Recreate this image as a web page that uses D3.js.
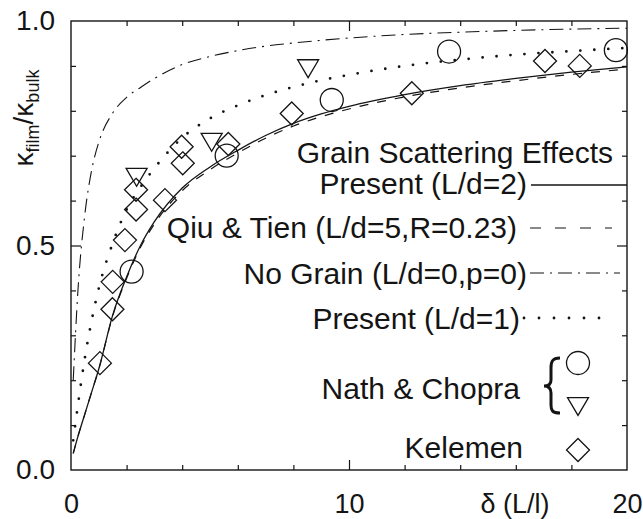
<!DOCTYPE html>
<html>
<head>
<meta charset="utf-8">
<script src="https://cdn.jsdelivr.net/npm/d3@7"></script>
<style>
  body { margin: 0; background: #fff; }
  text { font-family: "Liberation Sans", Arial, Helvetica, sans-serif; fill: #141414; }
</style>
</head>
<body>
<svg id="chart" width="643" height="519"></svg>
<script>
// δ = L/l sampling used for the model curves
const deltaGrid = [0.08, 0.25, 0.5, 0.75, 1, 1.5, 2, 2.5, 3, 4, 5, 6, 7, 8, 9, 10, 12, 14, 16, 18, 20];
// κ_film / κ_bulk for each model
const presentLd2 = [0.037, 0.075, 0.125, 0.175, 0.225, 0.345, 0.43, 0.5, 0.553, 0.628, 0.675, 0.712, 0.745, 0.772, 0.793, 0.81, 0.836, 0.856, 0.872, 0.886, 0.898];
const qiuTien    = [0.037, 0.075, 0.125, 0.175, 0.225, 0.343, 0.427, 0.496, 0.548, 0.622, 0.669, 0.706, 0.739, 0.766, 0.787, 0.804, 0.831, 0.851, 0.867, 0.881, 0.893];
const noGrain    = [0.2, 0.4, 0.57, 0.67, 0.73, 0.795, 0.83, 0.852, 0.872, 0.903, 0.921, 0.934, 0.944, 0.951, 0.957, 0.962, 0.97, 0.975, 0.979, 0.982, 0.984];
const presentLd1 = [0.066, 0.145, 0.25, 0.335, 0.405, 0.505, 0.58, 0.63, 0.672, 0.74, 0.783, 0.812, 0.835, 0.853, 0.868, 0.88, 0.9, 0.914, 0.925, 0.933, 0.94];

// Measurements
const nathCircleX   = [2.18, 5.6, 9.38, 13.6, 19.6];
const nathCircleY   = [0.442, 0.70, 0.824, 0.932, 0.935];
const nathTriangleX = [2.36, 5.06, 8.53];
const nathTriangleY = [0.653, 0.731, 0.895];
const kelemenX = [1.04, 1.49, 1.5, 1.94, 2.34, 2.34, 3.38, 3.98, 4.02, 5.66, 7.94, 12.26, 17.05, 18.3];
const kelemenY = [0.238, 0.358, 0.419, 0.512, 0.58, 0.624, 0.601, 0.72, 0.683, 0.726, 0.794, 0.839, 0.911, 0.9];

// Axis ticks
const xTickLabels = [0, 10, 20];
const yTickLabels = [0.0, 0.5, 1.0];

const svg = d3.select("#chart");
const pLeft = 71, pRight = 627, pTop = 21, pBottom = 470;
const x = d3.scaleLinear().domain([0, 20]).range([pLeft, pRight]);
const y = d3.scaleLinear().domain([0, 1]).range([pBottom, pTop]);
const ink = "#141414";

svg.append("defs").append("clipPath").attr("id", "plotClip")
  .append("rect").attr("x", pLeft).attr("y", pTop).attr("width", pRight - pLeft).attr("height", pBottom - pTop);

// Frame
svg.append("rect").attr("x", pLeft).attr("y", pTop).attr("width", pRight - pLeft).attr("height", pBottom - pTop)
  .attr("fill", "none").attr("stroke", ink).attr("stroke-width", 1.4);

// Inward ticks on all four sides
function ticks(axisGen, tr, values, size) {
  const g = svg.append("g").attr("transform", tr)
    .call(axisGen.tickValues(values).tickSizeInner(size).tickSizeOuter(0).tickFormat(""));
  g.select(".domain").remove();
  g.selectAll("line").attr("stroke", ink).attr("stroke-width", 1.2);
}
const xMinor = d3.range(2, 20, 2).filter(v => v !== 10);
const yMinor = d3.range(1, 10).map(v => v / 10).filter(v => v !== 0.5);
ticks(d3.axisBottom(x), `translate(0,${pBottom})`, xMinor, -5);
ticks(d3.axisBottom(x), `translate(0,${pBottom})`, [10], -10);
ticks(d3.axisTop(x), `translate(0,${pTop})`, xMinor, -5);
ticks(d3.axisTop(x), `translate(0,${pTop})`, [10], -10);
ticks(d3.axisLeft(y), `translate(${pLeft},0)`, yMinor, -5);
ticks(d3.axisLeft(y), `translate(${pLeft},0)`, [0.5], -10);
ticks(d3.axisRight(y), `translate(${pRight},0)`, yMinor, -5);
ticks(d3.axisRight(y), `translate(${pRight},0)`, [0.5], -10);

// Tick labels
const xLab = svg.append("g").attr("transform", `translate(0,${pBottom})`)
  .call(d3.axisBottom(x).tickValues(xTickLabels).tickSize(0).tickPadding(24).tickFormat(d3.format("d")));
xLab.select(".domain").remove();
xLab.selectAll("text").attr("font-size", 27).attr("font-family", null).attr("dy", "0.7em");

const yLab = svg.append("g").attr("transform", `translate(${pLeft},0)`)
  .call(d3.axisLeft(y).tickValues(yTickLabels).tickSize(0).tickPadding(16).tickFormat(d3.format(".1f")));
yLab.select(".domain").remove();
yLab.selectAll("text").attr("font-size", 28).attr("font-family", null);

// Axis titles
svg.append("text").attr("x", 515).attr("y", 513).attr("text-anchor", "middle")
  .attr("font-size", 27).text("δ (L/l)");

const yt = svg.append("text").attr("transform", "translate(33,118) rotate(-90)")
  .attr("text-anchor", "middle").attr("font-size", 28);
yt.append("tspan").text("κ");
yt.append("tspan").attr("font-size", 18).attr("dy", 6).text("film");
yt.append("tspan").attr("dy", -6).text("/κ");
yt.append("tspan").attr("font-size", 18).attr("dy", 6).text("bulk");

// Model curves
const plot = svg.append("g").attr("clip-path", "url(#plotClip)");
const line = d3.line().x(d => x(d[0])).y(d => y(d[1])).curve(d3.curveMonotoneX);
const pair = ys => deltaGrid.map((d, i) => [d, ys[i]]);

const styles = {
  solid:   { dash: null, width: 1.3 },
  dashed:  { dash: "9,9", width: 1.2 },
  dashdot: { dash: "14,6,2,6", width: 1.1 },
  dotted:  { dash: "0,14", width: 2.8, cap: "round" }
};
function drawPath(g, data, st) {
  g.append("path").attr("d", line(data)).attr("fill", "none").attr("stroke", ink)
    .attr("stroke-width", st.width).attr("stroke-dasharray", st.dash)
    .attr("stroke-linecap", st.cap || "butt");
}
drawPath(plot, pair(noGrain), styles.dashdot);
drawPath(plot, pair(presentLd1), styles.dotted);
drawPath(plot, pair(qiuTien), styles.dashed);
drawPath(plot, pair(presentLd2), styles.solid);

// Markers
const diamond = (cx, cy, r) => `M${cx},${cy - r}L${cx + r},${cy}L${cx},${cy + r}L${cx - r},${cy}Z`;
const triDown = (cx, cy, w) => `M${cx - w / 2},${cy - w * 0.4}L${cx + w / 2},${cy - w * 0.4}L${cx},${cy + w * 0.45}Z`;
const mk = svg.append("g").attr("fill", "none").attr("stroke", ink).attr("stroke-width", 1.3);

kelemenX.forEach((v, i) => mk.append("path").attr("d", diamond(x(v), y(kelemenY[i]), 11.5)));
nathTriangleX.forEach((v, i) => mk.append("path").attr("d", triDown(x(v), y(nathTriangleY[i]), 21)));
nathCircleX.forEach((v, i) => mk.append("circle").attr("cx", x(v)).attr("cy", y(nathCircleY[i])).attr("r", 11.5));

// Legend
const leg = svg.append("g");
const legText = (tx, ty, s, anchor) => leg.append("text").attr("x", tx).attr("y", ty)
  .attr("text-anchor", anchor || "end").attr("font-size", 30).text(s);

legText(613, 163, "Grain Scattering Effects");
legText(527, 194, "Present (L/d=2)");
legText(517, 238, "Qiu & Tien (L/d=5,R=0.23)");
legText(527, 284, "No Grain (L/d=0,p=0)");
legText(520, 329, "Present (L/d=1)");
legText(520, 399, "Nath & Chopra");
legText(523, 458, "Kelemen");

const legLine = (x1, x2, ly, st) => leg.append("line").attr("x1", x1).attr("x2", x2).attr("y1", ly).attr("y2", ly)
  .attr("stroke", ink).attr("stroke-width", st.width).attr("stroke-dasharray", st.dash)
  .attr("stroke-linecap", st.cap || "butt");
legLine(531, 627, 185, styles.solid);
legLine(530, 612, 228, { dash: "11,14", width: 1.2 });
legLine(530, 620, 273, styles.dashdot);
legLine(524, 612, 318, { dash: "0,15", width: 2.8, cap: "round" });

// Brace grouping the two Nath & Chopra symbols
leg.append("path")
  .attr("d", "M560,358 C552,358 551,362 551,368 L551,380 C551,385 548,386 544,386 C548,386 551,388 551,393 L551,405 C551,410 552,413 560,413")
  .attr("fill", "none").attr("stroke", ink).attr("stroke-width", 3);

mk.append("circle").attr("cx", 578).attr("cy", 363).attr("r", 11.5);
mk.append("path").attr("d", triDown(578, 406, 21));
mk.append("path").attr("d", diamond(578, 450, 11.5));
</script>
</body>
</html>
